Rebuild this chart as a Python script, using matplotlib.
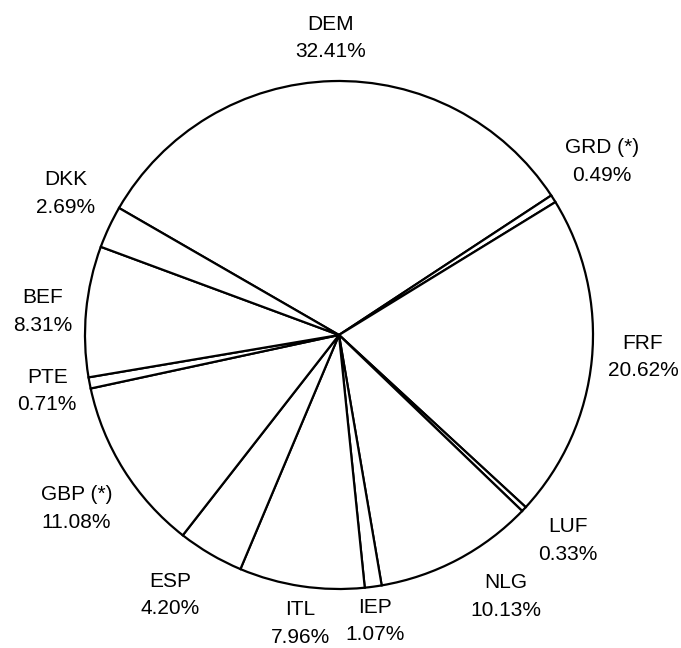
import numpy as np
import matplotlib
matplotlib.use("Agg")
import matplotlib.pyplot as plt

plt.rcParams['font.family'] = ['Liberation Sans', 'DejaVu Sans']

# ---- data ----
currencies = ["DEM", "GRD (*)", "FRF", "LUF", "NLG", "IEP", "ITL", "ESP",
              "GBP (*)", "PTE", "BEF", "DKK"]
shares = [32.41, 0.49, 20.62, 0.33, 10.13, 1.07, 7.96, 4.20,
          11.08, 0.71, 8.31, 2.69]

# ---- layout (label placement tweaks: angle offset in degrees, radius) ----
label_angle_offset = [0.0, 1.0, 1.4, 1.3, 4.6, -0.5, 0.9, -2.6, 1.4, 0.0, 0.8, -2.2]
label_radius = [1.17, 1.24, 1.20, 1.21, 1.22, 1.135, 1.145, 1.22, 1.24, 1.17, 1.17, 1.21]

W, H = 681, 648
fig = plt.figure(figsize=(W / 100, H / 100), dpi=100)
ax = fig.add_axes([0, 0, 1, 1])

R = 254.0
cx, cy = 339.0, 335.0

wedges, texts = ax.pie(
    shares,
    labels=[f"{c}\n{v:.2f}%" for c, v in zip(currencies, shares)],
    startangle=150,
    counterclock=False,
    colors=["white"] * len(shares),
    wedgeprops=dict(edgecolor="black", linewidth=1.6),
    labeldistance=1.2,
    textprops=dict(fontsize=15, ha="center", va="center", linespacing=1.58),
)

for w, t, da, r in zip(wedges, texts, label_angle_offset, label_radius):
    mid = np.deg2rad((w.theta1 + w.theta2) / 2 + da)
    t.set_position((r * np.cos(mid), r * np.sin(mid)))
    t.set_ha("center")
    t.set_va("center")

ax.set_xlim(-cx / R, (W - cx) / R)
ax.set_ylim(-(H - cy) / R, cy / R)
ax.set_aspect("equal")
ax.axis("off")

fig.savefig("out.png", dpi=100, facecolor="white")
